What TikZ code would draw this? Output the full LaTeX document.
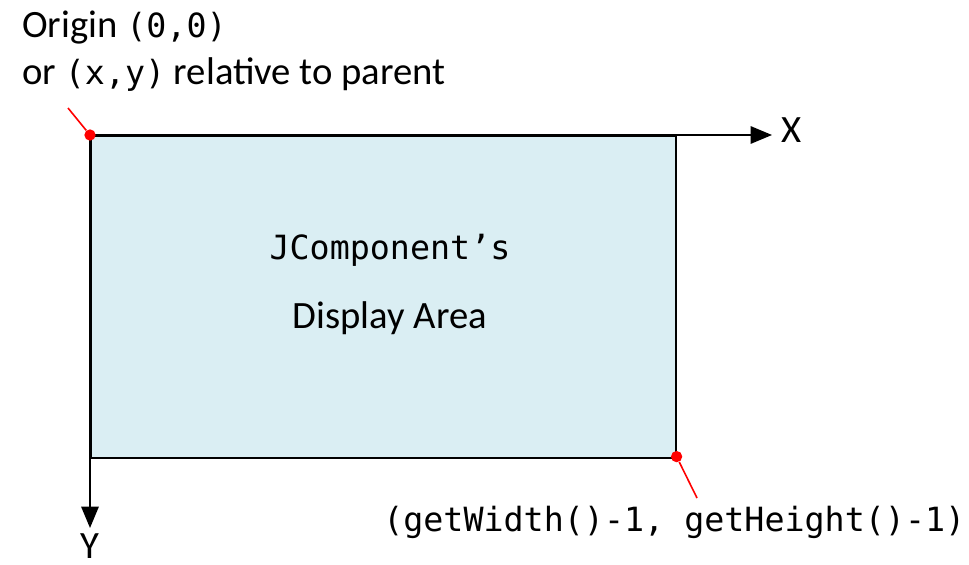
\documentclass[tikz,border=0pt]{standalone}
\usepackage{fontspec}
\setmainfont{Carlito}
\newfontfamily\codefont{DejaVu Sans Mono}
\usetikzlibrary{arrows.meta,positioning}
\definecolor{areablue}{HTML}{DAEEF3}

\begin{document}
\begin{tikzpicture}[
  x=0.75pt,y=-0.75pt,
  txt/.style={inner sep=0pt,font=\fontsize{29}{33}\selectfont},
  code/.style={inner sep=0pt,font=\codefont\fontsize{25}{30}\selectfont},
  area/.style={draw,line width=1.2pt,fill=areablue,minimum width=438.75pt,minimum height=241.5pt,inner sep=0pt},
  axis/.style={line width=1.4pt,-{Triangle[length=16pt,width=13pt]}},
  mark line/.style={red,line width=1.2pt},
  dot/.style={circle,fill=red,inner sep=0pt,minimum size=8.5pt}
]
\useasboundingbox (0,0) rectangle (969,564);
% display area
\node[area,anchor=north west] (area) at (90,135) {};
\node[code] (title) at (390,250) {JComponent’s};
\node[txt] (sub) at (390,318) {Display Area};
% axes
\coordinate (xtip) at (772,135);
\coordinate (ytip) at (90,528);
\draw[axis] (area.north west) -- (xtip);
\draw[axis] (area.north west) -- (ytip);
\node[txt,anchor=west] (xlabel) at (781,130) {X};
\node[txt] (ylabel) at (90,546) {Y};
% origin and far corner
\coordinate (otail) at (68,108);
\coordinate (ctail) at (697,498);
\node[dot] (odot) at (area.north west) {};
\node[dot] (cdot) at ([yshift=1.5pt]area.south east) {};
\draw[mark line] (otail) -- (odot);
\draw[mark line] (cdot) -- (ctail);
\node[txt,anchor=west] (olabel) at (22,28) {Origin {\codefont\fontsize{25}{30}\selectfont(0,0)}};
\node[txt,anchor=west] (rlabel) at (22,75) {or {\codefont\fontsize{25}{30}\selectfont(x,y)} relative to parent};
\node[code,anchor=west] (clabel) at (383,522) {(getWidth()-1, getHeight()-1)};
\end{tikzpicture}
\end{document}
